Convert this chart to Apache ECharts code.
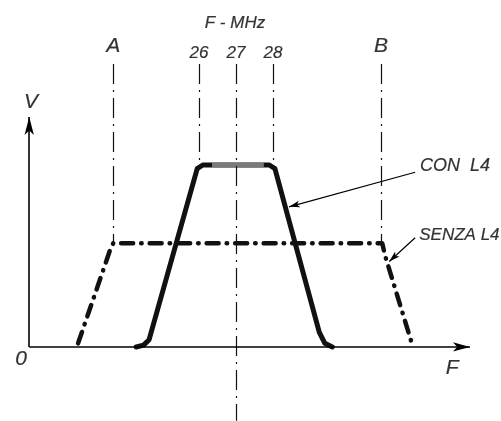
<!DOCTYPE html>
<html>
<head>
<meta charset="utf-8">
<script src="https://cdn.jsdelivr.net/npm/echarts@6/dist/echarts.min.js"></script>
<style>
  html, body { margin: 0; padding: 0; background: #fff; }
  #chart { width: 501px; height: 421px; }
</style>
</head>
<body>
<div id="chart"></div>
<script>
// frequency in MHz on x, relative level V on y (con L4 plateau = 1)
var freqTicks = [26, 27, 28];
var markerNames = ['A', 'B'];
var markerFreqs = [23.68, 30.92];

var conL4 = [[24.3, 0], [24.5, 0.01], [24.65, 0.04], [25.95, 0.98], [26.1, 1],
             [27.9, 1], [28.05, 0.98], [29.25, 0.08], [29.4, 0.02], [29.6, 0]];
var conL4Peak = [[26.35, 1], [27.75, 1]];
var senzaL4 = [[22.73, 0.02], [23.59, 0.53], [23.68, 0.57], [30.95, 0.57],
               [31.03, 0.5], [31.78, 0]];

var conArrow = [[31.84, 0.96], [28.43, 0.77]];
var senzaArrow = [[31.84, 0.60], [31.14, 0.47]];

var originF = 21.41, axisEndF = 33.32, axisTopV = 1.264;
var guideTop = 1.555;

var ink = '#000';
var font = 'Liberation Sans';

var myChart = echarts.init(document.getElementById('chart'));

// dash-dot guide lines
var guideStyle = { color: '#111', width: 1.2, type: [20, 6, 2, 6] };
var guides = [];
markerFreqs.forEach(function (f) {
    guides.push([{ coord: [f, guideTop], symbol: 'none' }, { coord: [f, 0.57], symbol: 'none' }]);
});
freqTicks.forEach(function (f) {
    var bottom = f === 27 ? -0.406 : 1.0;
    guides.push([{ coord: [f, guideTop], symbol: 'none' }, { coord: [f, bottom], symbol: 'none' }]);
});
guides.forEach(function (g) { g[0].lineStyle = guideStyle; });

// axes and leader arrows
var arrows = [
    [{ coord: [originF, 0], symbol: 'none', lineStyle: { color: ink, width: 1.6, type: 'solid' } },
     { coord: [axisEndF, 0], symbol: 'arrow', symbolSize: [7, 17] }],
    [{ coord: [originF, 0], symbol: 'none', lineStyle: { color: ink, width: 1.6, type: 'solid' } },
     { coord: [originF, axisTopV], symbol: 'arrow', symbolSize: [7, 18] }],
    [{ coord: conArrow[0], symbol: 'none', lineStyle: { color: ink, width: 1.2, type: 'solid' } },
     { coord: conArrow[1], symbol: 'arrow', symbolSize: [5, 11] }],
    [{ coord: senzaArrow[0], symbol: 'none', lineStyle: { color: ink, width: 1.2, type: 'solid' } },
     { coord: senzaArrow[1], symbol: 'arrow', symbolSize: [5, 11] }]
];

// text labels
function txt(name, x, y, size, align) {
    return {
        name: name, value: [x, y],
        label: { fontSize: size, align: align || 'center' }
    };
}
var texts = [
    txt('F - MHz', 26.97, 1.78, 17),
    txt('V', 21.46, 1.346, 21),
    txt('0', 21.19, -0.066, 21),
    txt('F', 32.84, -0.115, 21),
    txt('CON  L4', 31.97, 0.995, 18, 'left'),
    txt('SENZA L4', 31.95, 0.615, 17, 'left')
];
markerNames.forEach(function (n, i) {
    texts.push(txt(n, markerFreqs[i], 1.654, 21));
});
freqTicks.forEach(function (f) {
    texts.push(txt(String(f), f, 1.615, 17));
});

option = {
    backgroundColor: '#fff',
    animation: false,
    grid: { left: 0, right: 0, top: 0, bottom: 0 },
    xAxis: { type: 'value', min: 20.62, max: 34.16, show: false },
    yAxis: { type: 'value', min: -0.407, max: 1.907, show: false },
    series: [
        {
            name: 'guides',
            type: 'line',
            data: [],
            silent: true,
            markLine: { silent: true, symbol: 'none', label: { show: false }, data: guides.concat(arrows) }
        },
        {
            name: 'SENZA L4',
            type: 'line',
            data: senzaL4,
            symbol: 'none',
            lineStyle: { color: '#111', width: 4.5, type: [12, 8, 0.5, 8], cap: 'round', join: 'round' }
        },
        {
            name: 'CON L4',
            type: 'line',
            data: conL4,
            symbol: 'none',
            lineStyle: { color: '#111', width: 5, cap: 'round', join: 'round' }
        },
        {
            name: 'CON L4 peak',
            type: 'line',
            data: conL4Peak,
            symbol: 'none',
            lineStyle: { color: '#7a7a7a', width: 4 }
        },
        {
            name: 'texts',
            type: 'scatter',
            data: texts,
            symbolSize: 0,
            silent: true,
            label: {
                show: true,
                position: 'inside',
                formatter: '{b}',
                color: ink,
                fontFamily: font,
                fontStyle: 'italic',
                textBorderColor: ink,
                textBorderWidth: 0.2,
                verticalAlign: 'middle'
            }
        }
    ]
};
myChart.setOption(option);
</script>
</body>
</html>
